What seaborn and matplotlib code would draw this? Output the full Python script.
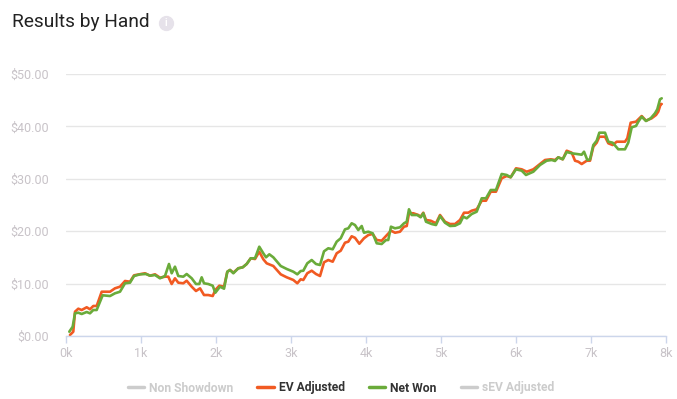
import matplotlib
matplotlib.use("Agg")
import matplotlib.pyplot as plt
from matplotlib.lines import Line2D
import seaborn as sns
import pandas as pd

# ---- data (hands, dollars) ----
net_hands = [44, 89, 120, 164, 209, 276, 320, 364, 409, 489, 587, 653, 720, 787, 853, 907, 987, 1067,
             1120, 1187, 1253, 1320, 1373, 1409, 1453, 1497, 1564, 1609, 1676, 1733, 1777, 1809, 1840,
             1897, 1956, 1991, 2053, 2107, 2151, 2187, 2231, 2297, 2356, 2409, 2463, 2520, 2577, 2631,
             2667, 2711, 2764, 2863, 2943, 3031, 3084, 3129, 3164, 3217, 3276, 3333, 3387, 3440, 3497,
             3556, 3609, 3663, 3720, 3764, 3809, 3853, 3897, 3943, 3973, 4031, 4089, 4143, 4209, 4267,
             4297, 4333, 4387, 4453, 4507, 4543, 4573, 4609, 4684, 4729, 4764, 4800, 4876, 4933, 4987,
             5053, 5120, 5187, 5253, 5297, 5343, 5409, 5476, 5543, 5600, 5663, 5733, 5809, 5876, 5929,
             6000, 6076, 6133, 6231, 6320, 6409, 6476, 6520, 6564, 6623, 6676, 6743, 6817, 6876, 6907,
             6951, 6987, 7031, 7076, 7111, 7187, 7231, 7289, 7364, 7453, 7497, 7543, 7600, 7631, 7676,
             7733, 7796, 7853, 7884, 7920, 7943]
net_won = [0.82, 1.77, 4.33, 4.45, 4.20, 4.58, 4.33, 4.96, 4.96, 7.77, 7.63, 8.15, 8.45, 10.06, 10.17,
           11.45, 11.77, 11.83, 11.51, 11.64, 11.01, 11.45, 13.74, 11.97, 13.23, 11.45, 11.32, 11.83,
           11.01, 9.92, 9.92, 11.20, 10.06, 9.92, 9.60, 8.26, 9.41, 9.03, 12.27, 12.60, 11.97, 12.92,
           13.11, 13.74, 14.83, 14.83, 17.04, 15.78, 15.02, 15.59, 15.02, 13.36, 12.79, 12.27, 11.77,
           12.40, 12.46, 13.87, 14.50, 13.74, 13.55, 16.16, 16.74, 16.55, 18.00, 18.65, 20.36, 20.55,
           21.51, 21.18, 20.23, 20.99, 19.71, 19.90, 19.60, 17.69, 17.56, 18.32, 18.32, 20.86, 20.55,
           20.74, 21.51, 21.81, 24.18, 23.09, 23.09, 22.65, 23.42, 21.81, 21.37, 21.18, 22.90, 21.62,
           20.99, 21.05, 21.51, 22.77, 22.46, 23.28, 23.72, 26.28, 26.28, 27.86, 27.86, 30.92, 30.73,
           30.29, 31.81, 31.55, 30.73, 31.35, 32.63, 33.45, 33.59, 33.40, 34.10, 33.72, 35.11, 34.87,
           34.73, 34.60, 35.17, 33.59, 33.72, 36.45, 37.27, 38.80, 38.80, 37.08, 36.89, 35.63, 35.63,
           36.89, 39.83, 40.08, 40.90, 41.85, 41.03, 41.55, 42.50, 43.26, 45.17, 45.36]

ev_hands = [53, 97, 120, 164, 209, 276, 320, 364, 409, 476, 587, 653, 720, 787, 853, 907, 1053, 1120,
            1187, 1253, 1320, 1364, 1409, 1453, 1497, 1564, 1609, 1676, 1733, 1787, 1840, 1897, 1956,
            1991, 2044, 2107, 2151, 2187, 2231, 2297, 2356, 2409, 2463, 2520, 2577, 2631, 2676, 2764,
            2863, 2943, 3031, 3084, 3129, 3164, 3217, 3276, 3333, 3387, 3440, 3497, 3556, 3609, 3663,
            3720, 3764, 3809, 3853, 3911, 3973, 4031, 4089, 4143, 4209, 4267, 4333, 4387, 4453, 4507,
            4543, 4573, 4631, 4697, 4729, 4764, 4800, 4863, 4933, 4987, 5053, 5120, 5187, 5253, 5307,
            5364, 5409, 5476, 5543, 5600, 5663, 5733, 5809, 5876, 5929, 6000, 6076, 6143, 6231, 6320,
            6387, 6463, 6520, 6564, 6623, 6676, 6743, 6787, 6831, 6876, 6943, 6987, 7031, 7076, 7111,
            7187, 7231, 7289, 7343, 7453, 7484, 7529, 7600, 7631, 7676, 7733, 7809, 7867, 7897, 7929,
            7943]
ev_adjusted = [0.19, 0.82, 4.64, 5.21, 4.96, 5.48, 5.10, 5.73, 5.73, 8.45, 8.45, 9.10, 9.41, 10.50,
               10.36, 11.58, 11.97, 11.51, 11.77, 11.13, 11.32, 11.32, 9.92, 11.01, 10.17, 10.06, 10.55,
               9.41, 8.59, 9.10, 7.82, 7.82, 7.63, 8.78, 9.60, 9.41, 12.27, 12.60, 12.08, 12.92, 13.11,
               13.74, 14.83, 14.69, 16.09, 14.64, 13.87, 13.36, 11.77, 11.20, 10.69, 10.06, 10.82, 10.69,
               11.97, 12.46, 11.83, 11.45, 14.06, 14.50, 14.18, 15.78, 16.28, 17.81, 18.00, 19.03, 18.74,
               17.61, 18.65, 19.27, 19.47, 18.32, 18.19, 19.08, 20.10, 19.71, 19.90, 20.86, 20.99, 23.42,
               23.42, 23.09, 22.77, 23.53, 22.14, 22.00, 21.51, 23.09, 21.81, 21.37, 21.37, 22.14, 23.53,
               23.53, 23.91, 24.18, 25.82, 25.82, 27.54, 27.54, 30.10, 30.53, 30.29, 32.00, 31.81, 31.35,
               31.81, 32.82, 33.59, 33.72, 33.59, 34.10, 33.72, 35.36, 34.98, 33.45, 33.26, 32.82, 33.45,
               33.45, 36.13, 36.89, 38.03, 38.03, 36.77, 36.45, 37.08, 37.08, 37.73, 40.71, 40.90, 41.35,
               41.98, 41.09, 41.55, 42.18, 42.81, 44.27, 44.27]

series_names = ["Non Showdown", "EV Adjusted", "Net Won", "sEV Adjusted"]
y_ticks = [0, 10, 20, 30, 40, 50]
x_ticks = [0, 1000, 2000, 3000, 4000, 5000, 6000, 7000, 8000]
x_tick_labels = ["0k", "1k", "2k", "3k", "4k", "5k", "6k", "7k", "8k"]

# ---- build long-form table ----
df = pd.concat([
    pd.DataFrame({"hands": ev_hands, "value": ev_adjusted, "series": "EV Adjusted"}),
    pd.DataFrame({"hands": net_hands, "value": net_won, "series": "Net Won"}),
], ignore_index=True)

ORANGE = "#f15a22"
GREEN = "#6aab3a"
GREY = "#cccccc"
palette = {"EV Adjusted": ORANGE, "Net Won": GREEN}

sns.set_theme(style="white")
plt.rcParams["font.family"] = ["Roboto", "DejaVu Sans"]

fig = plt.figure(figsize=(6.77, 3.99), dpi=100)
ax = fig.add_axes([66 / 677, (399 - 336) / 399, 600 / 677, 262 / 399])

sns.lineplot(data=df, x="hands", y="value", hue="series", palette=palette,
             linewidth=1.9, ax=ax, legend=False, estimator=None, sort=False)

ax.set_xlim(0, 8000)
ax.set_ylim(0, 50)
ax.set_yticks(y_ticks)
ax.set_yticklabels([f"${v:.2f}" for v in y_ticks])
ax.set_xticks(x_ticks)
ax.set_xticklabels(x_tick_labels)
ax.set_xlabel("")
ax.set_ylabel("")

ax.yaxis.grid(True, color="#e6e6e6", linewidth=1)
ax.xaxis.grid(False)
ax.set_axisbelow(True)
for s in ["top", "right", "left"]:
    ax.spines[s].set_visible(False)
ax.spines["bottom"].set_color("#ccd6eb")
ax.spines["bottom"].set_linewidth(1)

ax.tick_params(axis="y", length=0, pad=12, labelsize=9, labelcolor="#c8c3c8")
ax.tick_params(axis="x", length=5, width=1, color="#ccd6eb", pad=3, labelsize=9,
               labelcolor="#c8c3c8", direction="out", bottom=True)

# title
fig.text(12 / 677, 1 - 22 / 399, "Results by Hand", fontsize=13.8, color="#222222",
         va="center", ha="left", family=["Roboto", "DejaVu Sans"])
# info icon
fig.add_artist(Line2D([166 / 677], [1 - 23 / 399], marker="o", markersize=10,
                      color="#e6e2ea", linestyle="none", transform=fig.transFigure))
fig.text(166 / 677, 1 - 23 / 399, "i", fontsize=7, color="white", ha="center",
         va="center", fontweight="bold")

# legend
handles = [Line2D([], [], color=c, linewidth=2.5) for c in [GREY, ORANGE, GREEN, GREY]]
leg = fig.legend(handles, series_names, loc="center", bbox_to_anchor=(341 / 677, 1 - 388 / 399),
                 ncol=4, frameon=False, handlelength=1.35, handletextpad=0.42,
                 columnspacing=2.0, prop={"family": ["Roboto", "DejaVu Sans"], "weight": "bold",
                                          "size": 8.7})
for txt, col in zip(leg.get_texts(), ["#cccccc", "#333333", "#333333", "#cccccc"]):
    txt.set_color(col)

fig.savefig("out.png", dpi=100)
